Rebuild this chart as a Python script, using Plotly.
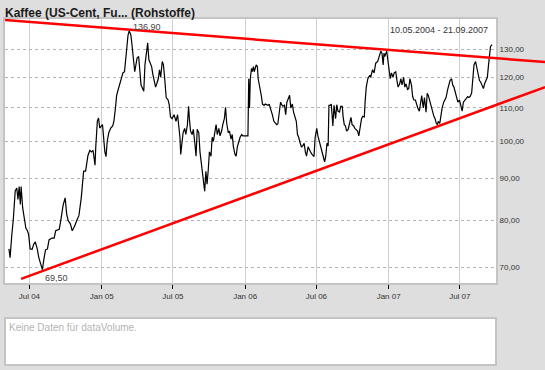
import math
import pandas as pd
import plotly.graph_objects as go

title_text = "Kaffee (US-Cent, Fu... (Rohstoffe)"
range_text = "10.05.2004 - 21.09.2007"
volume_text = "Keine Daten für dataVolume."

dates = [
    "2004-05-10", "2004-05-13", "2004-05-17", "2004-05-21", "2004-05-26", "2004-05-30",
    "2004-06-02", "2004-06-05", "2004-06-08", "2004-06-10", "2004-06-14", "2004-06-18",
    "2004-06-22", "2004-06-26", "2004-06-29", "2004-07-03", "2004-07-08", "2004-07-12",
    "2004-07-16", "2004-07-21", "2004-07-25", "2004-07-31", "2004-08-03", "2004-08-07",
    "2004-08-11", "2004-08-16", "2004-08-20", "2004-08-27", "2004-09-02", "2004-09-06",
    "2004-09-15", "2004-09-19", "2004-09-25", "2004-09-30", "2004-10-04", "2004-10-08",
    "2004-10-13", "2004-10-18", "2004-10-24", "2004-10-30", "2004-11-04", "2004-11-10",
    "2004-11-16", "2004-11-21", "2004-11-27", "2004-12-02", "2004-12-06", "2004-12-10",
    "2004-12-15", "2004-12-17", "2004-12-21", "2004-12-24", "2004-12-27",
    "2005-01-03", "2005-01-05", "2005-01-09", "2005-01-12", "2005-01-15", "2005-01-19",
    "2005-01-24", "2005-01-29", "2005-02-01", "2005-02-05", "2005-02-08", "2005-02-12",
    "2005-02-16", "2005-02-20", "2005-02-24", "2005-02-28", "2005-03-03", "2005-03-06",
    "2005-03-09", "2005-03-12", "2005-03-16", "2005-03-19", "2005-03-22", "2005-03-26",
    "2005-03-29", "2005-04-01", "2005-04-05", "2005-04-08", "2005-04-11", "2005-04-15",
    "2005-04-18", "2005-04-21", "2005-04-25", "2005-04-28", "2005-05-01", "2005-05-05",
    "2005-05-08", "2005-05-11", "2005-05-15", "2005-05-18", "2005-05-21", "2005-05-25",
    "2005-05-28", "2005-05-31", "2005-06-04", "2005-06-07", "2005-06-10", "2005-06-14",
    "2005-06-19", "2005-06-22", "2005-06-25", "2005-06-29", "2005-07-04", "2005-07-09",
    "2005-07-13", "2005-07-16", "2005-07-19", "2005-07-21", "2005-07-24", "2005-07-27",
    "2005-07-31", "2005-08-03", "2005-08-07", "2005-08-10", "2005-08-12", "2005-08-15",
    "2005-08-19", "2005-08-22", "2005-08-26", "2005-08-29", "2005-09-01", "2005-09-05",
    "2005-09-08", "2005-09-11", "2005-09-15", "2005-09-18", "2005-09-20", "2005-09-23",
    "2005-09-26", "2005-09-29", "2005-10-02", "2005-10-06", "2005-10-09", "2005-10-12",
    "2005-10-16", "2005-10-19", "2005-10-22", "2005-10-26", "2005-10-29", "2005-11-02",
    "2005-11-05", "2005-11-09", "2005-11-12", "2005-11-15", "2005-11-19", "2005-11-22",
    "2005-11-26", "2005-11-29", "2005-12-02", "2005-12-06", "2005-12-09", "2005-12-12",
    "2005-12-16", "2005-12-19", "2005-12-23", "2005-12-26", "2005-12-30",
    "2006-01-03", "2006-01-08", "2006-01-10", "2006-01-12", "2006-01-14", "2006-01-17",
    "2006-01-19", "2006-01-22", "2006-01-24", "2006-01-27", "2006-01-29", "2006-02-01",
    "2006-02-03", "2006-02-06", "2006-02-08", "2006-02-11", "2006-02-14", "2006-02-18",
    "2006-02-21", "2006-02-24", "2006-02-28", "2006-03-03", "2006-03-05", "2006-03-08",
    "2006-03-11", "2006-03-15", "2006-03-18", "2006-03-22", "2006-03-25", "2006-03-28",
    "2006-04-01", "2006-04-04", "2006-04-07", "2006-04-11", "2006-04-14", "2006-04-17",
    "2006-04-21", "2006-04-24", "2006-04-27", "2006-05-01", "2006-05-04", "2006-05-07",
    "2006-05-11", "2006-05-14", "2006-05-17", "2006-05-21", "2006-05-24", "2006-05-27",
    "2006-05-31", "2006-06-03", "2006-06-06", "2006-06-10", "2006-06-13", "2006-06-16",
    "2006-06-20", "2006-06-23", "2006-06-25", "2006-06-28", "2006-07-02", "2006-07-05",
    "2006-07-09", "2006-07-12", "2006-07-15", "2006-07-19", "2006-07-22", "2006-07-25",
    "2006-07-28", "2006-07-31", "2006-08-02", "2006-08-05", "2006-08-08", "2006-08-12",
    "2006-08-15", "2006-08-19", "2006-08-22", "2006-08-25", "2006-08-29", "2006-09-01",
    "2006-09-05", "2006-09-07", "2006-09-10", "2006-09-13", "2006-09-16", "2006-09-20",
    "2006-09-23", "2006-09-27", "2006-09-30", "2006-10-04", "2006-10-07", "2006-10-10",
    "2006-10-14", "2006-10-17", "2006-10-21", "2006-10-24", "2006-10-27", "2006-10-31",
    "2006-11-02", "2006-11-05", "2006-11-09", "2006-11-14", "2006-11-16", "2006-11-21",
    "2006-11-25", "2006-11-29", "2006-12-04", "2006-12-08", "2006-12-12", "2006-12-15",
    "2006-12-18", "2006-12-20", "2006-12-22", "2006-12-27", "2006-12-29",
    "2007-01-02", "2007-01-05", "2007-01-08", "2007-01-12", "2007-01-15", "2007-01-19",
    "2007-01-22", "2007-01-25", "2007-01-29", "2007-02-01", "2007-02-04", "2007-02-08",
    "2007-02-11", "2007-02-14", "2007-02-18", "2007-02-21", "2007-02-24", "2007-02-28",
    "2007-03-03", "2007-03-06", "2007-03-10", "2007-03-13", "2007-03-16", "2007-03-20",
    "2007-03-23", "2007-03-26", "2007-03-30", "2007-04-02", "2007-04-06", "2007-04-09",
    "2007-04-12", "2007-04-16", "2007-04-19", "2007-04-22", "2007-04-26", "2007-04-29",
    "2007-05-02", "2007-05-05", "2007-05-07", "2007-05-11", "2007-05-14", "2007-05-17",
    "2007-05-21", "2007-05-24", "2007-05-27", "2007-05-31", "2007-06-03", "2007-06-06",
    "2007-06-10", "2007-06-13", "2007-06-16", "2007-06-20", "2007-06-23", "2007-06-26",
    "2007-06-30", "2007-07-03", "2007-07-07", "2007-07-10", "2007-07-14", "2007-07-17",
    "2007-07-21", "2007-07-24", "2007-07-27", "2007-07-31", "2007-08-03", "2007-08-06",
    "2007-08-10", "2007-08-13", "2007-08-16", "2007-08-20", "2007-08-23", "2007-08-26",
    "2007-08-30", "2007-09-02", "2007-09-05", "2007-09-09", "2007-09-12", "2007-09-15",
    "2007-09-17", "2007-09-21",
]

prices = [
    73.7, 71.9, 76.4, 80.0, 86.9, 87.6,
    84.8, 88.0, 83.6, 88.0, 82.8, 79.8,
    78.2, 77.6, 76.8, 73.7, 73.6, 74.7,
    75.2, 73.7, 71.9, 70.3, 69.5, 71.6,
    73.5, 73.7, 75.6, 76.0, 76.0, 77.6,
    77.9, 80.0, 83.5, 85.2, 81.3, 79.8,
    79.2, 77.6, 78.6, 80.0, 81.0, 85.2,
    91.9, 91.9, 96.1, 97.5, 97.1, 97.5,
    93.5, 98.7, 106.0, 106.9, 103.9,
    104.9, 101.2, 97.1, 95.8, 100.0, 102.5,
    103.9, 104.5, 105.9, 110.0, 114.0, 115.9,
    117.8, 119.5, 121.5, 121.9, 126.7, 131.5,
    135.3, 136.9, 135.4, 131.6, 127.9, 121.9,
    124.3, 126.7, 127.3, 121.1, 117.4, 116.2,
    115.3, 124.3, 130.4, 132.3, 126.1, 124.3,
    123.7, 121.1, 118.4, 116.7, 117.8, 119.5,
    122.6, 120.0, 125.5, 124.3, 120.0, 113.3,
    112.5, 110.8, 107.2, 106.7, 107.9, 105.9,
    107.9, 104.5, 101.2, 96.4, 100.0, 102.5,
    103.8, 102.0, 104.9, 110.5, 106.7, 103.0,
    102.0, 103.5, 99.5, 95.9, 103.5, 102.5,
    97.1, 94.4, 92.2, 89.9, 86.8, 91.9,
    88.6, 92.2, 97.1, 95.9, 101.2, 100.0,
    103.8, 104.9, 102.0, 103.8, 101.6, 103.0,
    104.9, 106.7, 110.2, 105.3, 102.5, 103.0,
    100.7, 102.0, 98.5, 96.4, 95.9, 98.5,
    100.0, 101.2, 102.0, 101.6, 101.6,
    101.6, 101.6, 119.5, 110.0, 119.5, 123.1,
    121.9, 123.7, 121.9, 123.1, 124.3, 123.7,
    119.5, 117.4, 116.2, 113.9, 111.2, 110.8,
    111.2, 111.0, 110.8, 111.2, 110.5, 109.0,
    107.9, 105.9, 105.3, 104.9, 105.1, 107.9,
    111.8, 111.0, 110.5, 110.8, 107.9, 111.8,
    113.3, 114.0, 110.0, 111.2, 108.7, 107.2,
    105.9, 102.0, 101.2, 99.5, 98.5, 98.7,
    99.5, 97.1, 95.9, 98.5, 97.6, 97.1,
    96.4, 95.9, 95.8, 101.2, 103.8, 101.6,
    100.0, 98.7, 97.6, 95.9, 94.4, 95.9,
    99.5, 98.7, 110.8, 110.8, 111.2, 104.5,
    110.8, 106.7, 111.0, 109.0, 108.7, 110.5,
    110.5, 107.4, 104.9, 104.5, 103.0, 103.5,
    104.9, 107.1, 104.9, 104.5, 103.8, 103.5,
    103.0, 101.6, 104.5, 106.7, 107.4, 107.2,
    111.8, 116.7, 119.5, 120.7, 120.0, 122.6,
    121.5, 124.9, 125.5, 127.9, 129.2, 128.5,
    124.3, 128.5, 127.3, 129.2, 127.3,
    121.9, 119.5, 121.5, 120.0, 121.5, 121.9,
    118.9, 116.7, 117.8, 119.5, 117.4, 120.0,
    116.7, 117.8, 115.9, 116.2, 119.5, 117.4,
    113.6, 112.5, 112.5, 110.8, 110.0, 109.0,
    111.8, 113.9, 110.0, 113.3, 108.7, 114.7,
    113.9, 111.8, 110.8, 109.0, 107.4, 106.7,
    105.3, 104.9, 105.9, 105.3, 107.9, 110.0,
    111.8, 112.5, 113.3, 115.9, 117.4, 118.9,
    119.5, 117.4, 116.7, 114.7, 113.3, 111.8,
    112.5, 110.8, 109.0, 111.8, 112.5, 113.3,
    113.6, 113.3, 113.6, 114.7, 119.5, 124.3,
    125.5, 123.1, 121.5, 118.9, 118.4, 117.4,
    116.2, 117.8, 118.9, 120.0, 124.3, 129.2,
    131.0, 131.6,
]

high_date, high_value, high_label = "2005-03-12", 136.9, "136,90"
low_date, low_value, low_label = "2004-08-03", 69.5, "69,50"

trend_top_dates = ["2004-04-30", "2008-02-03"]
trend_top_values = [141.2, 125.3]
trend_bottom_dates = ["2004-06-10", "2008-02-03"]
trend_bottom_values = [67.7, 116.7]

x_tick_vals = ["2004-07-01", "2005-01-01", "2005-07-01", "2006-01-01",
               "2006-07-01", "2007-01-01", "2007-07-01"]
x_tick_text = ["Jul 04", "Jan 05", "Jul 05", "Jan 06", "Jul 06", "Jan 07", "Jul 07"]
y_tick_vals = [70, 80, 90, 100, 110, 120, 130]
y_tick_text = ["70,00", "80,00", "90,00", "100,00", "110,00", "120,00", "130,00"]

x_start, x_end = "2004-04-30", "2007-10-01"
y_min, y_max = 66.9, 141.6

# layout geometry
W, H = 545, 370
ML, MR, MT, MB = 5, 0, 19, 5
pw, ph = W - ML - MR, H - MT - MB
main_right = (496 - ML) / pw
main_bottom = (H - MB - 283) / ph
vol_top = (H - MB - 318) / ph

t0, t1 = pd.Timestamp(x_start), pd.Timestamp(x_end)
t_end2 = t0 + (t1 - t0) / main_right
yr = [math.log10(y_min), math.log10(y_max)]

FONT = "Liberation Sans, Arial, sans-serif"
tick_font = dict(family=FONT, size=8, color="#333333")
border = "#c4c4c4"

fig = go.Figure()
fig.add_trace(go.Scatter(x=dates, y=prices, mode="lines",
                         line=dict(color="#000000", width=1.2),
                         xaxis="x", yaxis="y", hoverinfo="skip", showlegend=False))
fig.add_trace(go.Scatter(x=trend_top_dates, y=trend_top_values, mode="lines",
                         line=dict(color="#ff0000", width=2.5),
                         xaxis="x2", yaxis="y2", hoverinfo="skip", showlegend=False))
fig.add_trace(go.Scatter(x=trend_bottom_dates, y=trend_bottom_values, mode="lines",
                         line=dict(color="#ff0000", width=2.5),
                         xaxis="x2", yaxis="y2", hoverinfo="skip", showlegend=False))

fig.update_layout(
    width=W, height=H,
    margin=dict(l=ML, r=MR, t=MT, b=MB),
    paper_bgcolor="#dedede",
    plot_bgcolor="rgba(0,0,0,0)",
    title=dict(text=title_text, x=5 / W, xref="container", xanchor="left",
               y=1 - 13 / H, yref="container", yanchor="middle",
               font=dict(family=FONT, size=12, color="#1a1a1a", weight="bold")),
    xaxis=dict(domain=[0, main_right], anchor="y", type="date",
               range=[t0, t1], tickvals=x_tick_vals, ticktext=x_tick_text,
               ticks="outside", ticklen=4, tickcolor="#000000", tickwidth=1,
               showgrid=True, gridcolor="#c8d2d2", gridwidth=1,
               showline=True, linecolor=border, linewidth=2, mirror=True,
               tickfont=tick_font, zeroline=False),
    yaxis=dict(domain=[main_bottom, 1], anchor="x", type="log", range=yr,
               side="right", tickvals=y_tick_vals, ticktext=y_tick_text,
               ticks="", ticklen=0, showgrid=True, gridcolor="#b4b4b4", griddash="dot",
               gridwidth=1, showline=True, linecolor=border, linewidth=2,
               mirror=True, tickfont=tick_font, zeroline=False),
    xaxis2=dict(domain=[0, 1], anchor="y2", type="date", range=[t0, t_end2],
                visible=False),
    yaxis2=dict(domain=[main_bottom, 1], anchor="x2", type="log", range=yr,
                visible=False),
    shapes=[
        dict(type="rect", xref="paper", yref="paper", x0=0, x1=main_right,
             y0=main_bottom, y1=1, fillcolor="#ffffff", line=dict(width=0),
             layer="below"),
        dict(type="rect", xref="paper", yref="paper", x0=0, x1=main_right,
             y0=0, y1=vol_top, fillcolor="#ffffff",
             line=dict(color=border, width=2), layer="below"),
    ],
    annotations=[
        dict(x=high_date, y=math.log10(high_value), xref="x", yref="y",
             text=high_label, showarrow=False, xanchor="left", yanchor="middle",
             xshift=2, yshift=4, font=dict(family=FONT, size=9, color="#444444")),
        dict(x=low_date, y=math.log10(low_value), xref="x", yref="y",
             text=low_label, showarrow=False, xanchor="left", yanchor="middle",
             xshift=1, yshift=-8, font=dict(family=FONT, size=9, color="#444444")),
        dict(x=(490 - ML) / pw, y=(H - MB - 30) / ph, xref="paper", yref="paper",
             text=range_text, showarrow=False, xanchor="right", yanchor="middle",
             font=dict(family=FONT, size=9, color="#333333")),
        dict(x=2 / pw, y=(H - MB - 327) / ph, xref="paper", yref="paper",
             text=volume_text, showarrow=False, xanchor="left", yanchor="middle",
             font=dict(family=FONT, size=10, color="#b4b4b4")),
    ],
)

fig.write_html("out.html", config={"displayModeBar": False},
               post_script="document.body.style.margin='0';")
